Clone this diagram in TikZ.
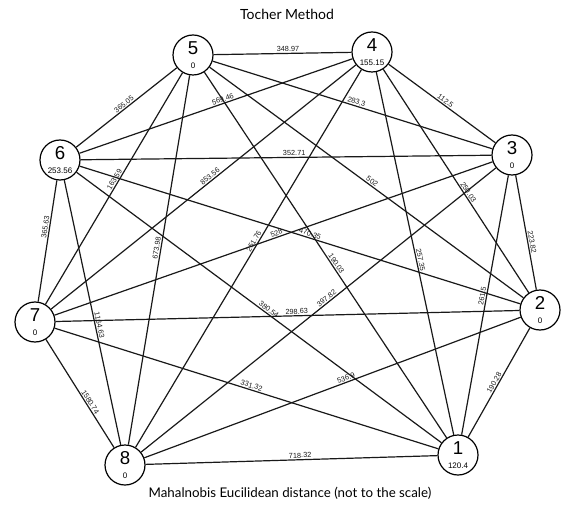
\documentclass[tikz,border=0pt]{standalone}
\usepackage{fontspec}
\setmainfont{Lato}
\newfontfamily\numfont{Liberation Sans}

\begin{document}
\begin{tikzpicture}[x={(0.75pt,0)},y={(0,-0.75pt)},
  vert/.style={draw,circle,line width=0.9pt,minimum size=30pt,inner sep=0pt,align=center,font=\numfont},
  edge/.style={line width=0.9pt,black!90},
  elab/.style={sloped,above,inner sep=0.8pt,font=\numfont\fontsize{5.5}{6}\selectfont}]
% pixel coordinates of the reference, y pointing down
\useasboundingbox (0,0) rectangle (573,509);
\node (title) at (287,14) {\fontsize{10.5}{12}\selectfont Tocher Method};
\node (caption) at (290,493) {\fontsize{10}{12}\selectfont Mahalnobis Eucilidean distance (not to the scale)};
% the eight groups, value under the number
\node[vert] (n1) at (458,455) {\fontsize{14}{12}\selectfont 1\\[-2pt]\fontsize{6}{6}\selectfont 120.4};
\node[vert] (n2) at (540,310) {\fontsize{14}{12}\selectfont 2\\[-2pt]\fontsize{6}{6}\selectfont 0};
\node[vert] (n3) at (512,155) {\fontsize{14}{12}\selectfont 3\\[-2pt]\fontsize{6}{6}\selectfont 0};
\node[vert] (n4) at (372,52) {\fontsize{14}{12}\selectfont 4\\[-2pt]\fontsize{6}{6}\selectfont 155.15};
\node[vert] (n5) at (193,55) {\fontsize{14}{12}\selectfont 5\\[-2pt]\fontsize{6}{6}\selectfont 0};
\node[vert] (n6) at (60,160) {\fontsize{14}{12}\selectfont 6\\[-2pt]\fontsize{6}{6}\selectfont 253.56};
\node[vert] (n7) at (35,322) {\fontsize{14}{12}\selectfont 7\\[-2pt]\fontsize{6}{6}\selectfont 0};
\node[vert] (n8) at (125,465) {\fontsize{14}{12}\selectfont 8\\[-2pt]\fontsize{6}{6}\selectfont 0};
% all 28 distances
\foreach \a/\b/\w/\p in {1/2/190.28/0.48, 1/3/261.5/0.53, 1/4/257.35/0.48, 1/5/190.03/0.47,
    1/6/380.54/0.48, 1/7/331.32/0.49, 1/8/718.32/0.47, 2/3/223.82/0.41, 2/4/250.03/0.44,
    2/5/502/0.49, 2/6/470.35/0.48, 2/7/298.63/0.48, 2/8/536.9/0.46, 3/4/112.5/0.49,
    3/5/283.3/0.49, 3/6/352.71/0.48, 3/7/528/0.49, 3/8/397.82/0.47, 4/5/348.97/0.46,
    4/6/569.46/0.47, 4/7/853.56/0.47, 4/8/251.76/0.46, 5/6/365.05/0.5, 5/7/163.59/0.47,
    5/8/673.98/0.47, 6/7/365.63/0.39, 6/8/1164.63/0.55, 7/8/1580.74/0.6}
  \draw[edge] (n\a) -- node[elab,pos=\p] {\w} (n\b);
\end{tikzpicture}
\end{document}
